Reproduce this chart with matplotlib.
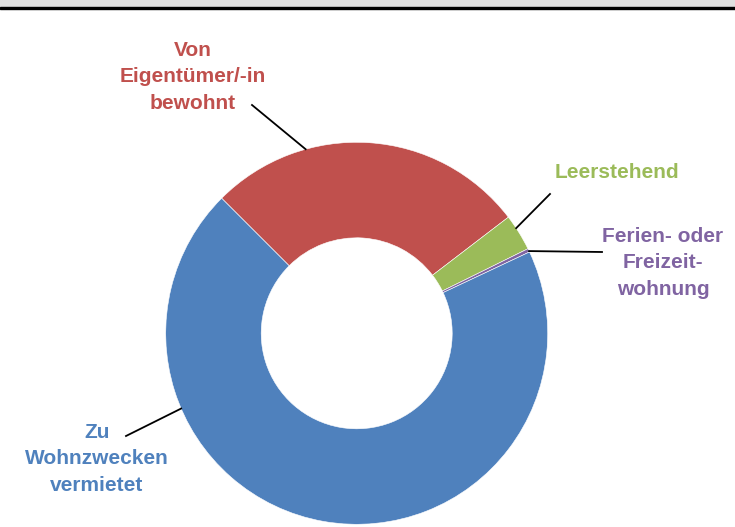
import numpy as np
import matplotlib.pyplot as plt
from matplotlib.patches import Rectangle

labels = ["Von\nEigentümer/-in\nbewohnt", "Leerstehend",
          "Ferien- oder\nFreizeit-\nwohnung", "Zu\nWohnzwecken\nvermietet"]
shares = [27.1, 3.1, 0.3, 69.5]
colors = ["#C0504D", "#9BBB59", "#8064A2", "#4F81BD"]

# label placement (px from top-left) and angle where the leader touches the ring
label_pos = [(193, 77), (617, 173), (663, 263), (97, 459)]
leader_from = [(252, 105), (550, 194), (602, 252), (126, 436)]
leader_ang = [105.5, 33.4, 25.5, 203.2]

W, H = 735, 527
fig = plt.figure(figsize=(W / 100, H / 100), dpi=100)
ax = fig.add_axes([0, 0, 1, 1])

cx, cy, r = 356.7, H - 333.3, 191
ax.pie(shares, colors=colors, startangle=135, counterclock=False,
       center=(cx, cy), radius=r, frame=True,
       wedgeprops=dict(width=r * 0.5, edgecolor="white", linewidth=0.4))
ax.set_xlim(0, W)
ax.set_ylim(0, H)
ax.set_aspect("equal")
ax.axis("off")

for lab, col, (lx, ly), (fx, fy), a in zip(labels, colors, label_pos, leader_from, leader_ang):
    ax.text(lx, H - ly, lab, color=col, ha="center", va="center",
            fontsize=15, fontweight="bold", family="Liberation Sans",
            linespacing=1.5)
    t = np.radians(a)
    ax.plot([fx, cx + r * np.cos(t)], [H - fy, cy + r * np.sin(t)],
            color="black", lw=1.3)

# header strip at the top
ax.add_patch(Rectangle((0, H - 6.5), W, 6.5, color="#E0E0E0", clip_on=False))
ax.add_patch(Rectangle((0, H - 9), W, 2.5, color="black", clip_on=False))

fig.savefig("out.png", dpi=100)
